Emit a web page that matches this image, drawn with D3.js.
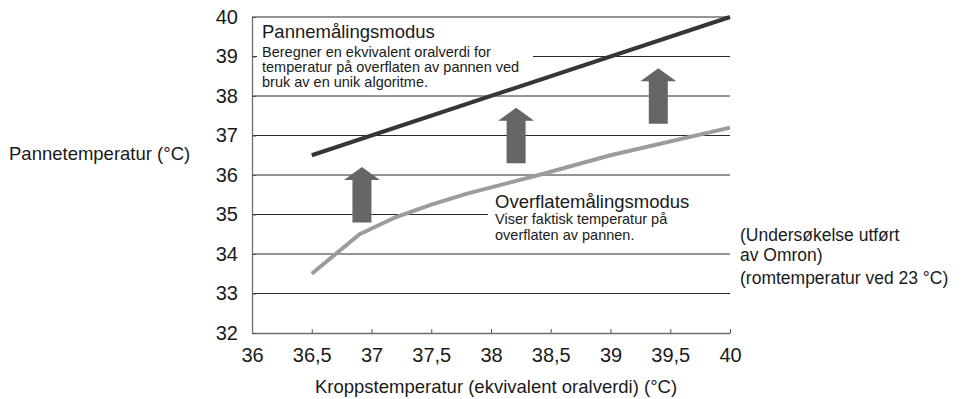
<!DOCTYPE html>
<html>
<head>
<meta charset="utf-8">
<script src="https://cdn.jsdelivr.net/npm/d3@7"></script>
<style>
  html, body { margin: 0; padding: 0; background: #fff; }
  svg { display: block; font-family: "Liberation Sans", Arial, sans-serif; }
</style>
</head>
<body>
<svg id="chart" width="964" height="399"></svg>
<script>
// Body temperature (oral equivalent) on the x axis
const xTicks = [36, 36.5, 37, 37.5, 38, 38.5, 39, 39.5, 40];
const yTicks = [32, 33, 34, 35, 36, 37, 38, 39, 40];

// Forehead measurement mode (oral-equivalent estimate)
const foreheadX = [36.5, 40];
const foreheadY = [36.5, 40];

// Surface measurement mode (actual skin temperature)
const surfaceX = [36.5, 36.9, 37.2, 37.5, 37.8, 38.4, 39, 40];
const surfaceY = [33.5, 34.5, 34.93, 35.25, 35.53, 36.0, 36.5, 37.2];

// Upward arrows between the two modes
const arrowX    = [36.92, 38.21, 39.4];
const arrowFrom = [34.8, 36.3, 37.3];
const arrowTo   = [36.2, 37.7, 38.7];

const svg = d3.select("#chart");
const plotLeft = 252, plotRight = 730, plotTop = 17, plotBottom = 333;

const x = d3.scaleLinear().domain([36, 40]).range([plotLeft, plotRight]);
const y = d3.scaleLinear().domain([32, 40]).range([plotBottom, plotTop]);

const fmt = d => String(d).replace(".", ",");

// Horizontal grid lines
svg.append("g").selectAll("line")
  .data(yTicks.filter(d => d > 32))
  .join("line")
  .attr("x1", plotLeft).attr("x2", plotRight)
  .attr("y1", d => y(d)).attr("y2", d => y(d))
  .attr("stroke", "#2a2a2a").attr("stroke-width", 1);

// Axes
const xAxis = svg.append("g")
  .attr("transform", `translate(0,${plotBottom})`)
  .call(d3.axisBottom(x).tickValues(xTicks).tickFormat(fmt)
    .tickSizeInner(-4).tickSizeOuter(0).tickPadding(15));
const yAxis = svg.append("g")
  .attr("transform", `translate(${plotLeft},0)`)
  .call(d3.axisLeft(y).tickValues(yTicks).tickFormat(fmt)
    .tickSizeInner(-4).tickSizeOuter(0).tickPadding(14));

[xAxis, yAxis].forEach(g => {
  g.select(".domain").attr("stroke", "#6e6e6e").attr("stroke-width", 1.3);
  g.selectAll(".tick line").attr("stroke", "#555").attr("stroke-width", 1);
  g.selectAll(".tick text")
    .attr("fill", "#1a1a1a")
    .style("font-size", "20px")
    .style("font-family", "'Liberation Sans', Arial, sans-serif");
});
yAxis.selectAll(".tick text").attr("dy", "0.3em");

// Text panels cover the grid behind them
svg.append("rect")
  .attr("x", 257).attr("y", y(39) - 8).attr("width", 276).attr("height", 16)
  .attr("fill", "#fff");
svg.append("rect")
  .attr("x", 488).attr("y", y(35) - 8).attr("width", plotRight - 488 + 1).attr("height", 16)
  .attr("fill", "#fff");

// Series lines
const line = d3.line().x(d => x(d[0])).y(d => y(d[1]));
svg.append("path")
  .datum(d3.zip(surfaceX, surfaceY))
  .attr("d", line)
  .attr("fill", "none").attr("stroke", "#9c9c9c").attr("stroke-width", 4)
  .attr("stroke-linejoin", "round");
svg.append("path")
  .datum(d3.zip(foreheadX, foreheadY))
  .attr("d", line)
  .attr("fill", "none").attr("stroke", "#363636").attr("stroke-width", 4);

// Block arrows
const headW = 36, shaftW = 19, headH = 13;
svg.append("g").selectAll("path")
  .data(d3.zip(arrowX, arrowFrom, arrowTo))
  .join("path")
  .attr("d", ([ax, y0, y1]) => {
    const cx = x(ax), yb = y(y0), yt = y(y1);
    const hb = yt + headH;
    return `M${cx - shaftW / 2},${yb} L${cx - shaftW / 2},${hb} L${cx - headW / 2},${hb}
            L${cx},${yt} L${cx + headW / 2},${hb} L${cx + shaftW / 2},${hb}
            L${cx + shaftW / 2},${yb} Z`;
  })
  .attr("fill", "#666");

// Annotations
function block(lines, x0, baselines, sizes) {
  const g = svg.append("g");
  lines.forEach((t, i) => {
    g.append("text")
      .attr("x", x0).attr("y", baselines[i])
      .attr("fill", "#1a1a1a")
      .style("font-size", sizes[i] + "px")
      .text(t);
  });
}
block(["Pannemålingsmodus",
       "Beregner en ekvivalent oralverdi for",
       "temperatur på overflaten av pannen ved",
       "bruk av en unik algoritme."],
      262, [38, 57, 72, 87], [18.5, 14.5, 14.5, 14.5]);
block(["Overflatemålingsmodus",
       "Viser faktisk temperatur på",
       "overflaten av pannen."],
      495, [208, 224, 240], [18.5, 14.5, 14.5]);
block(["(Undersøkelse utført", "av Omron)", "(romtemperatur ved 23 °C)"],
      740, [241, 261, 284], [17.5, 17.5, 17.5]);

// Axis titles
svg.append("text")
  .attr("x", 9).attr("y", 160)
  .attr("fill", "#1a1a1a").style("font-size", "18.5px")
  .text("Pannetemperatur (°C)");
svg.append("text")
  .attr("x", 315).attr("y", 393)
  .attr("fill", "#1a1a1a").style("font-size", "18.5px")
  .text("Kroppstemperatur (ekvivalent oralverdi) (°C)");
</script>
</body>
</html>
